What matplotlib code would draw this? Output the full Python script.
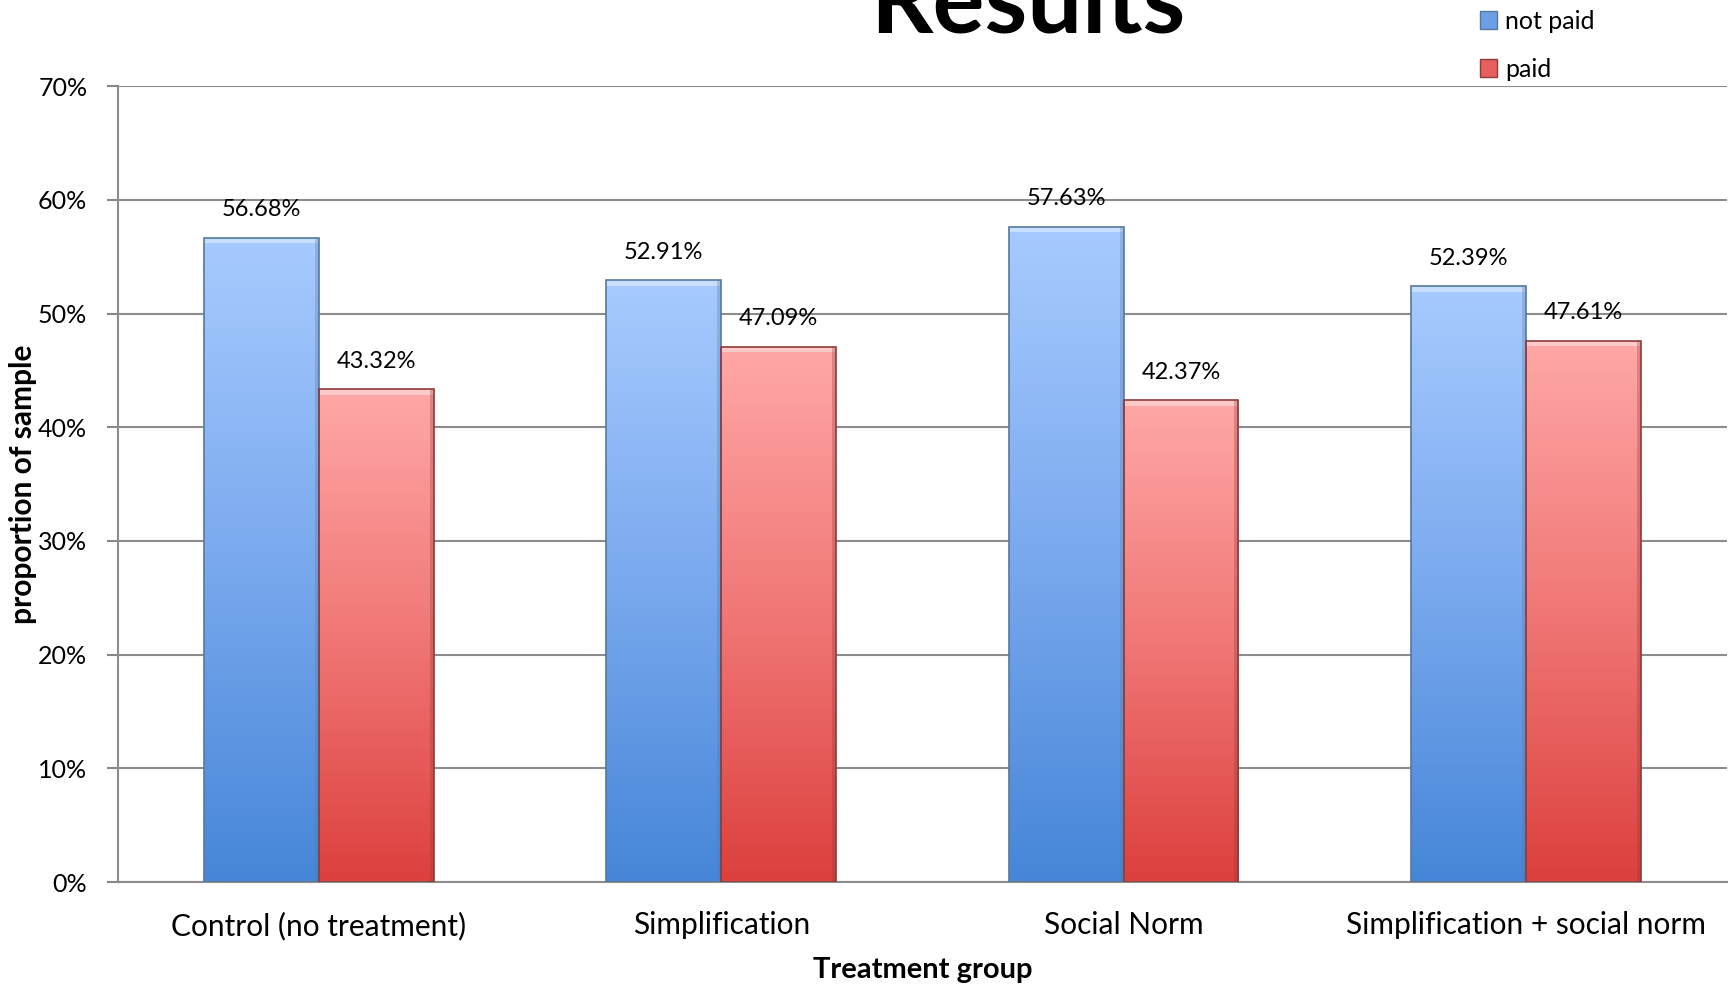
import numpy as np
import matplotlib.pyplot as plt
from matplotlib.colors import LinearSegmentedColormap
from matplotlib.patches import Patch, Rectangle

plt.rcParams['font.family'] = ['Lato', 'DejaVu Sans']

groups = ['Control (no treatment)', 'Simplification', 'Social Norm', 'Simplification + social norm']
not_paid = [56.68, 52.91, 57.63, 52.39]
paid = [43.32, 47.09, 42.37, 47.61]
yticks = [0, 10, 20, 30, 40, 50, 60, 70]

blue_cmap = LinearSegmentedColormap.from_list('blue', ['#4686d8', '#7aa9ee', '#a7cbff'])
red_cmap = LinearSegmentedColormap.from_list('red', ['#dc403d', '#f07776', '#ffa8a7'])


def gradient_bars(ax, bars, cmap, edge):
    grad = np.linspace(0, 1, 256).reshape(-1, 1)
    for b in bars:
        x0, y0 = b.get_x(), b.get_y()
        w, h = b.get_width(), b.get_height()
        im = ax.imshow(grad, cmap=cmap, origin='lower', aspect='auto',
                       extent=(x0, x0 + w, y0, y0 + h), zorder=2)
        im.set_clip_path(b)
        # bevel highlight along the top edge
        ax.add_patch(Rectangle((x0, y0 + h - 0.5), w, 0.5, facecolor='white',
                               alpha=0.4, edgecolor='none', zorder=3))
        # darker shading on the right side
        ax.add_patch(Rectangle((x0 + w * 0.965, y0), w * 0.035, h, facecolor=edge,
                               alpha=0.3, edgecolor='none', zorder=3))
        ax.add_patch(Rectangle((x0, y0), w, h, facecolor='none', edgecolor=edge,
                               linewidth=1.2, zorder=4))


fig = plt.figure(figsize=(17.33, 9.89), dpi=100)
ax = fig.add_axes([0.068, 0.108, 0.9285, 0.805])

x = np.arange(len(groups)) + 0.5
width = 2 / 7
b1 = ax.bar(x - width / 2, not_paid, width, color='none', edgecolor='none', zorder=2)
b2 = ax.bar(x + width / 2, paid, width, color='none', edgecolor='none', zorder=2)
gradient_bars(ax, b1, blue_cmap, '#56789f')
gradient_bars(ax, b2, red_cmap, '#8e3a3a')

for bars, vals in ((b1, not_paid), (b2, paid)):
    for b, v in zip(bars, vals):
        ax.annotate(f'{v:.2f}%', (b.get_x() + b.get_width() / 2, v),
                    xytext=(0, 20), textcoords='offset points',
                    ha='center', va='center', fontsize=17, zorder=5)

ax.set_xlim(0, len(groups))
ax.set_ylim(0, 70)
ax.set_yticks(yticks)
ax.set_yticklabels([f'{t}%' for t in yticks], fontsize=18)
ax.set_xticks(x)
ax.set_xticklabels(groups, fontsize=21.5)
ax.tick_params(axis='x', length=0, pad=21)
ax.tick_params(axis='y', length=8, color='#888888', width=1.5, pad=14)
ax.yaxis.grid(True, color='#8c8c8c', linewidth=1.5, zorder=0)
ax.set_axisbelow(True)
for s in ('top', 'right'):
    ax.spines[s].set_visible(False)
ax.spines['left'].set_color('#8c8c8c')
ax.spines['left'].set_linewidth(1.5)
ax.spines['bottom'].set_color('#8c8c8c')
ax.spines['bottom'].set_linewidth(1.5)

ax.set_ylabel('proportion of sample', fontsize=21.5, fontweight='bold')
ax.yaxis.set_label_coords(-0.05, 0.5)
ax.set_xlabel('Treatment group', fontsize=21, fontweight='bold', labelpad=12)

fig.text(0.593, 0.967, 'Results', fontsize=70, fontweight='bold', ha='center', va='baseline')

handles = [Patch(facecolor='#6a9fe6', edgecolor='#56789f'),
           Patch(facecolor='#e8605e', edgecolor='#8e3a3a')]
fig.legend(handles, ['not paid', 'paid'], loc='upper left', bbox_to_anchor=(0.841, 1.013),
           frameon=False, fontsize=18, handlelength=0.7, handleheight=0.7,
           handletextpad=0.3, labelspacing=1.0)

fig.savefig('out.png', dpi=100)
